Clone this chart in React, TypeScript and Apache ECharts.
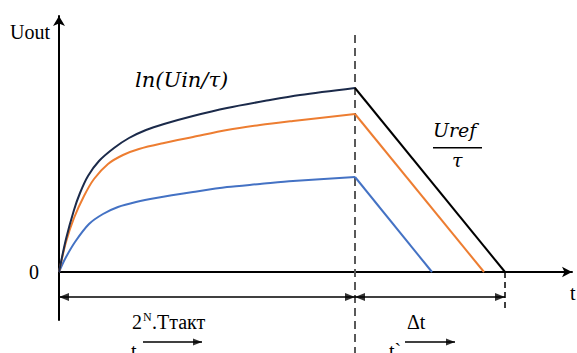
import React, { useEffect, useRef } from "react";
import * as echarts from "echarts";

// Data units: x = time (0 .. 513), y = Uout (-48 .. 256)
const blackRise: [number, number][] = [
  [0, 0], [7, 33], [15, 62], [21, 79], [29, 96], [40, 111], [55, 124], [70, 134],
  [87, 142], [105, 148], [134, 156], [168, 164], [211, 172], [241, 177], [296, 184],
];
const orangeRise: [number, number][] = [
  [0, 0], [7, 30], [15, 54], [25, 76], [35, 93], [49, 108], [64, 117], [80, 123],
  [105, 129], [134, 135], [168, 142], [201, 147], [234, 151], [296, 158],
];
const blueRise: [number, number][] = [
  [0, 0], [6, 13], [16, 30], [30, 48], [44, 58], [59, 65], [77, 70], [97, 74],
  [134, 80], [168, 85], [201, 88], [234, 91], [296, 95],
];
const blackFall: [number, number][] = [[296, 184], [446, 0]];
const orangeFall: [number, number][] = [[296, 158], [425, 0]];
const blueFall: [number, number][] = [[296, 95], [373, 0]];

const tSwitch = 296; // end of integration (2^N * Tтакт)
const tEnd = 446; // end of de-integration
const dimY = -25;
const smallArrowY = -70;
const smallArrows: [number, number][] = [[84, 143], [346, 396]];

const SERIF = "Liberation Serif";
const MATH = "DejaVu Serif";

export default function App() {
  const ref = useRef<HTMLDivElement>(null);
  useEffect(() => {
    if (!ref.current) return;
    const chart = echarts.init(ref.current, undefined, { renderer: "svg" });
    const lineSeries = (
      data: [number, number][],
      color: string,
      smooth: boolean | number,
      z = 3,
      width = 2,
      type: any = "solid"
    ) => ({
      type: "line",
      data,
      smooth,
      showSymbol: false,
      symbol: "none",
      silent: true,
      z,
      lineStyle: { color, width, type },
      clip: false,
    });
    const head = (x: number, y: number, dir: "left" | "right", len = 10, w = 8) => ({
      value: [dir === "right" ? x - len / 2 : x + len / 2, y],
      symbol: "triangle",
      symbolSize: [w, len],
      symbolRotate: dir === "right" ? -90 : 90,
    });
    const txt = (text: string, left: number, top: number, size: number, family = SERIF, italic = false) => ({
      type: "text",
      left,
      top,
      style: { text, fontFamily: family, fontSize: size, fontStyle: italic ? "italic" : "normal", fill: "#000" },
    });
    chart.setOption({
      animation: false,
      backgroundColor: "#ffffff",
      grid: { left: 59, right: 5, top: 16, bottom: 33, containLabel: false },
      xAxis: {
        type: "value", min: 0, max: 513,
        splitLine: { show: false }, axisTick: { show: false }, axisLabel: { show: false },
        axisLine: { show: true, onZero: true, symbol: ["none", "arrow"], symbolSize: [8, 10], lineStyle: { color: "#000", width: 2 } },
      },
      yAxis: {
        type: "value", min: -48, max: 256, interval: 48,
        splitLine: { show: false }, axisTick: { show: false },
        axisLabel: {
          show: true, formatter: (v: number) => (v === 0 ? "0" : ""),
          fontFamily: SERIF, fontSize: 20, color: "#000", margin: 20, padding: [8, 0, 0, 0],
        },
        axisLine: { show: true, onZero: true, symbol: ["none", "arrow"], symbolSize: [9, 10], lineStyle: { color: "#000", width: 2 } },
      },
      series: [
        lineSeries([[tSwitch, 237], [tSwitch, -81]], "#595959", false, 1, 2, [8, 5]),
        lineSeries([[tEnd, 0], [tEnd, -38]], "#000", false, 1, 1.5, [6, 4]),
        lineSeries(blueRise, "#4472c4", 0.3),
        lineSeries(blueFall, "#4472c4", false),
        lineSeries(orangeRise, "#ed7d31", 0.3),
        lineSeries(orangeFall, "#ed7d31", false),
        lineSeries(blackRise, "#1b2a4a", 0.3, 4),
        lineSeries(blackFall, "#000000", false, 4),
        lineSeries([[0, dimY], [tSwitch, dimY]], "#000", false, 5, 1.5),
        lineSeries([[tSwitch, dimY], [tEnd, dimY]], "#000", false, 5, 1.5),
        lineSeries([[smallArrows[0][0], smallArrowY], [smallArrows[0][1], smallArrowY]], "#000", false, 5, 1.5),
        lineSeries([[smallArrows[1][0], smallArrowY], [smallArrows[1][1], smallArrowY]], "#000", false, 5, 1.5),
        {
          type: "scatter", silent: true, clip: false, z: 6, itemStyle: { color: "#000" },
          data: [
            head(0, dimY, "left"),
            head(tSwitch, dimY, "right"),
            head(tSwitch, dimY, "left"),
            head(tEnd, dimY, "right"),
            head(smallArrows[0][1], smallArrowY, "right", 9, 7),
            head(smallArrows[1][1], smallArrowY, "right", 9, 7),
          ],
        },
      ],
      graphic: [
        txt("Uout", 10, 22, 20),
        txt("t", 570, 283, 20),
        txt("ln(Uin/τ)", 135, 69, 21, MATH, true),
        txt("Uref", 433, 120, 19, MATH, true),
        { type: "rect", shape: { x: 433, y: 147, width: 49, height: 1.5 }, style: { fill: "#000" } },
        txt("τ", 452, 150, 19, MATH, true),
        txt("2", 132, 312, 20),
        txt("N", 143, 311, 12),
        txt(".Tтакт", 152, 312, 20),
        txt("Δt", 407, 312, 20),
        txt("t", 131, 341, 20),
        txt("t`", 389, 341, 20),
      ],
    });
    return () => chart.dispose();
  }, []);
  return (
    <div ref={ref} style={{ position: "absolute", left: 0, top: 0, width: 577, height: 353, background: "#fff" }} />
  );
}
